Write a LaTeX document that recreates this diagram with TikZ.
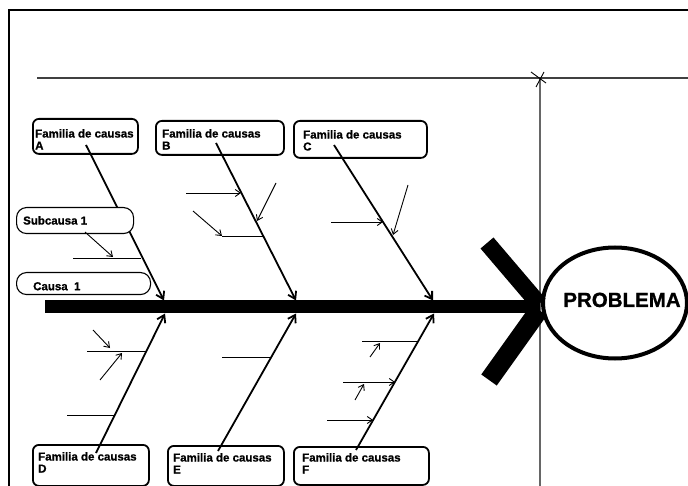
\documentclass[tikz,border=0pt]{standalone}
\usepackage{fontspec}
\newfontfamily\lab{Liberation Sans Bold}[FakeBold=1]
\usetikzlibrary{arrows.meta,shapes.geometric}
\begin{document}
\begin{tikzpicture}[x=1pt,y=-1pt,
  famtext/.style={font=\lab\fontsize{11.5}{12}\selectfont, align=left, inner sep=0, anchor=north west},
  fambox/.style={draw, line width=1.8, rounded corners=6, fill=white, anchor=north west, inner sep=0},
  causebox/.style={draw, line width=1.1, rounded corners=10, fill=white, anchor=north west, inner sep=0},
  bone/.style={line width=1.8, -{Straight Barb[length=7,width=9]}},
  twig/.style={line width=0.9},
  twigarrow/.style={line width=0.9, -{Straight Barb[length=5,width=7]}},
]
\useasboundingbox (0,0) rectangle (688,486);
\fill[white] (0,0) rectangle (688,486);

% frame and guide lines
\draw[line width=2.5] (9,486) -- (9,10) -- (688,10);
\draw[line width=1.3, black!75] (37,78) -- (688,78);
\draw[line width=1.5, black!60] (540,78) -- (540,486);
\draw[line width=0.9] (531,72) -- (546,83) (544,72) -- (536,87);

% spine and its head
\coordinate (tail) at (45,307);
\coordinate (head) at (540,307);
\draw[line width=13] (tail) -- (head);
\coordinate (hu) at (487,243);
\coordinate (hd) at (489,380);
\draw[line width=17] (hu) -- (539,304);
\draw[line width=19] (539,310) -- (hd);

% effect
\node[draw, ellipse, line width=4, minimum width=144, minimum height=111, inner sep=0] (prob) at (615,303) {};
\node[font=\lab\fontsize{20.5}{24}\selectfont, anchor=base, inner sep=0] (probtext) at (622,307) {PROBLEMA};

% family boxes
\node[fambox, minimum width=105, minimum height=35] (boxA) at (32,118) {};
\node[fambox, minimum width=128, minimum height=34] (boxB) at (155,120) {};
\node[fambox, minimum width=133, minimum height=37] (boxC) at (293,120) {};
\node[fambox, minimum width=116, minimum height=41] (boxD) at (32,444) {};
\node[fambox, minimum width=116, minimum height=40] (boxE) at (167,445) {};
\node[fambox, minimum width=135, minimum height=38] (boxF) at (293,446) {};

% main bones
\coordinate (a0) at (86,145);  \coordinate (a1) at (164,300.5);
\coordinate (b0) at (216,143); \coordinate (b1) at (296,300.5);
\coordinate (c0) at (334,145); \coordinate (c1) at (433,300.5);
\coordinate (d0) at (96,453);  \coordinate (d1) at (165,313.5);
\coordinate (e0) at (218,451); \coordinate (e1) at (296,313.5);
\coordinate (f0) at (356,450); \coordinate (f1) at (434,313.5);
\foreach \s in {a,b,c,d,e,f}{\draw[bone] (\s0) -- (\s1);}

% twigs on family A
\coordinate (ta1) at (73,258);  \coordinate (ta2) at (141,258);
\coordinate (ta3) at (85,232);  \coordinate (ta4) at (113,257);
\draw[twig] (ta1) -- (ta2);

% twigs on family B
\coordinate (tb1) at (186,193); \coordinate (tb2) at (241,193);
\coordinate (tb3) at (276,183); \coordinate (tb4) at (257,221);
\coordinate (tb5) at (222,236); \coordinate (tb6) at (263,236);
\coordinate (tb7) at (193,211);
\draw[twigarrow] (tb1) -- (tb2);
\draw[twigarrow] (tb3) -- (tb4);
\draw[twig] (tb5) -- (tb6);
\draw[twigarrow] (tb7) -- (tb5);

% twigs on family C
\coordinate (tc1) at (331,222); \coordinate (tc2) at (383,222);
\coordinate (tc3) at (408,185); \coordinate (tc4) at (393,235);
\draw[twigarrow] (tc1) -- (tc2);
\draw[twigarrow] (tc3) -- (tc4);

% twigs on family D
\coordinate (td1) at (87,351);  \coordinate (td2) at (146,351);
\coordinate (td3) at (93,330);  \coordinate (td4) at (110,348);
\coordinate (td5) at (100,380); \coordinate (td6) at (122,353);
\coordinate (td7) at (67,415);  \coordinate (td8) at (115,415);
\draw[twig] (td1) -- (td2);
\draw[twigarrow] (td3) -- (td4);
\draw[twigarrow] (td5) -- (td6);
\draw[twig] (td7) -- (td8);

% twig on family E
\coordinate (te1) at (222,357); \coordinate (te2) at (271,357);
\draw[twig] (te1) -- (te2);

% twigs on family F
\coordinate (tf1) at (362,341); \coordinate (tf2) at (418,341);
\coordinate (tf3) at (370,357); \coordinate (tf4) at (380,343);
\coordinate (tf5) at (343,382); \coordinate (tf6) at (395,382);
\coordinate (tf7) at (355,400); \coordinate (tf8) at (364,384);
\coordinate (tf9) at (327,420); \coordinate (tf10) at (373,420);
\draw[twig] (tf1) -- (tf2);
\draw[twigarrow] (tf3) -- (tf4);
\draw[twigarrow] (tf5) -- (tf6);
\draw[twigarrow] (tf7) -- (tf8);
\draw[twigarrow] (tf9) -- (tf10);

% cause boxes on the left
\node[causebox, minimum width=117, minimum height=26] (sub) at (16,207) {};
\node[causebox, minimum width=134, minimum height=22] (cause) at (16,272) {};
\draw[twigarrow] (ta3) -- (ta4);

% labels
\node[famtext] (tA) at (35,129) {Familia de causas\\A};
\node[famtext] (tB) at (162,129) {Familia de causas\\B};
\node[famtext] (tC) at (303,130) {Familia de causas\\C};
\node[famtext] (tD) at (38,452) {Familia de causas\\D};
\node[famtext] (tE) at (173,453) {Familia de causas\\E};
\node[famtext] (tF) at (302,453) {Familia de causas\\F};
\node[famtext] (tsub) at (23,216) {Subcausa 1};
\node[famtext] (tcause) at (33,282) {Causa\ \ 1};
\end{tikzpicture}
\end{document}
